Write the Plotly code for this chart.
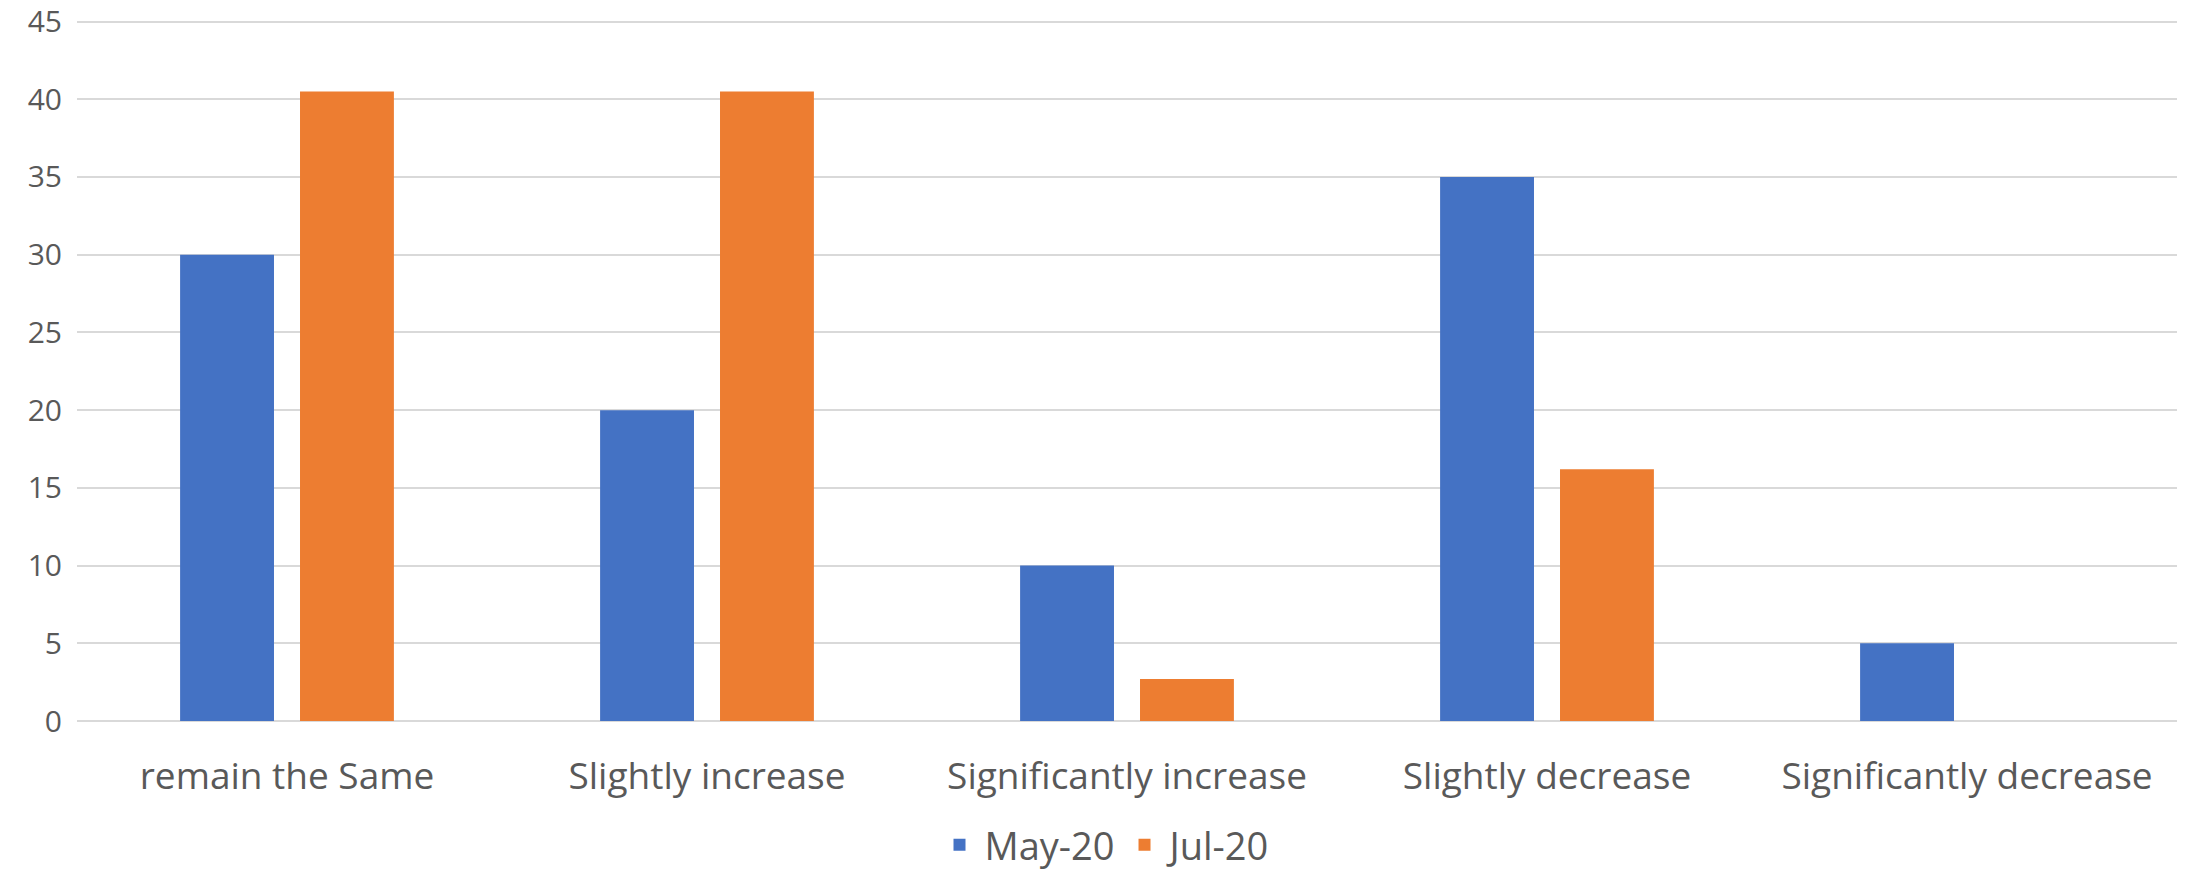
import plotly.graph_objects as go

categories = ["remain the Same", "Slightly increase", "Significantly increase",
              "Slightly decrease", "Significantly decrease"]
may20 = [30, 20, 10, 35, 5]
jul20 = [40.5, 40.5, 2.7, 16.2, 0]
series_names = ["May-20", "Jul-20"]
colors = ["#4472C4", "#ED7D31"]
y_ticks = [0, 5, 10, 15, 20, 25, 30, 35, 40, 45]

font_family = "Open Sans, Noto Sans, sans-serif"
text_color = "#595959"

fig = go.Figure()
fig.add_trace(go.Bar(x=categories, y=may20, name=series_names[0],
                     marker=dict(color=colors[0], line=dict(width=0))))
fig.add_trace(go.Bar(x=categories, y=jul20, name=series_names[1],
                     marker=dict(color=colors[1], line=dict(width=0))))

fig.update_layout(
    width=2188, height=872,
    margin=dict(l=77, r=11, t=20, b=151, autoexpand=False),
    paper_bgcolor="white", plot_bgcolor="white",
    barmode="group", bargap=0.429, bargroupgap=0.217,
    font=dict(family=font_family, color=text_color),
    showlegend=True,
    legend=dict(orientation="h", x=0.49, xanchor="center", y=-0.177, yanchor="middle",
                font=dict(size=38, color=text_color, family=font_family),
                itemwidth=40, traceorder="normal"),
    xaxis=dict(showgrid=False, showline=False, ticks="", automargin=False,
               tickfont=dict(size=37, color=text_color, family=font_family),
               ticklabelstandoff=30),
    yaxis=dict(range=[0, 45.1], tickmode="array", tickvals=y_ticks,
               showgrid=True, gridcolor="#D9D9D9", gridwidth=2,
               zeroline=True, zerolinecolor="#D9D9D9", zerolinewidth=2,
               showline=False, ticks="", automargin=False,
               tickfont=dict(size=30, color=text_color, family=font_family),
               ticklabelstandoff=14),
)

fig.write_html("out.html", config={"displayModeBar": False},
               post_script="document.body.style.margin='0px';document.body.style.overflow='hidden';")
